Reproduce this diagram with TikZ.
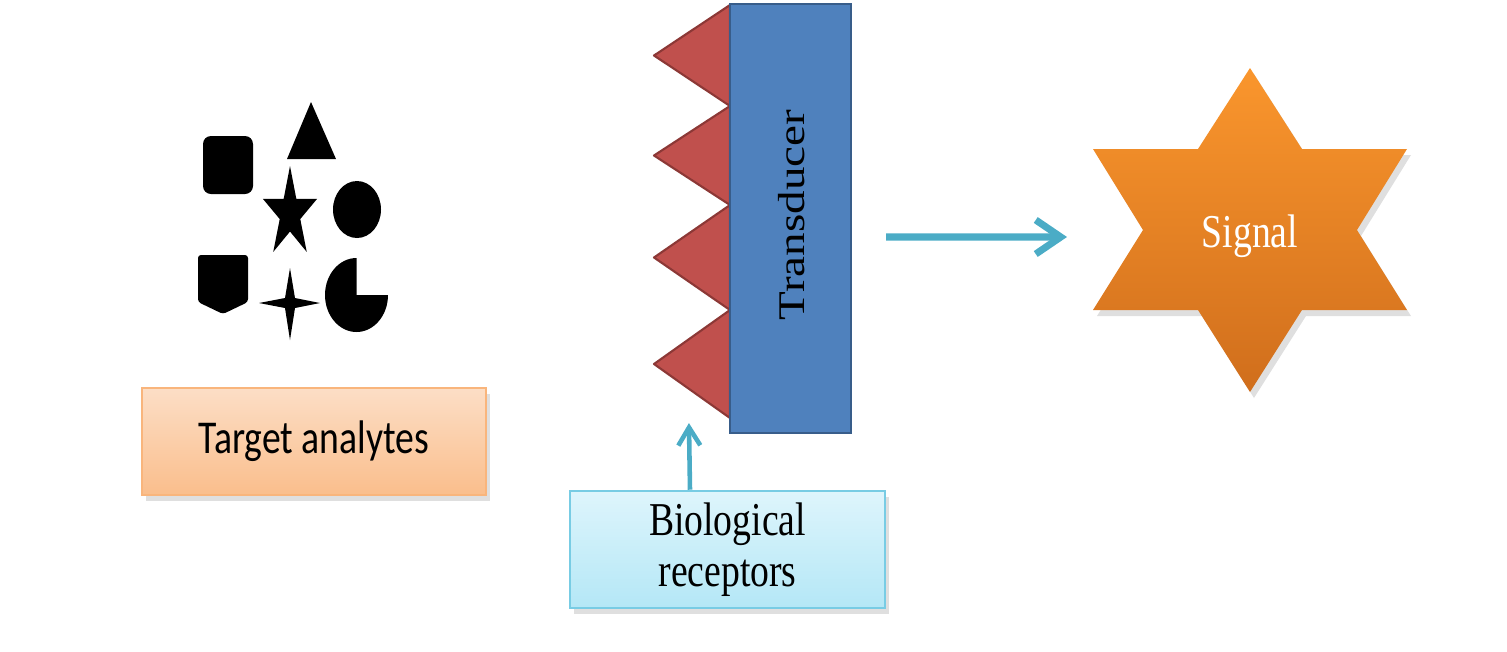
\documentclass[tikz,border=0pt]{standalone}
\usepackage{fontspec}
\setmainfont{Liberation Serif}
\newfontfamily\calibfont{Carlito}
\usetikzlibrary{arrows.meta,shadows}

\definecolor{tdrblue}{RGB}{79,129,189}
\definecolor{tdredge}{RGB}{56,93,138}
\definecolor{recred}{RGB}{192,80,77}
\definecolor{recedge}{RGB}{140,56,54}
\definecolor{arrowblue}{RGB}{75,172,198}
\definecolor{peachtop}{RGB}{252,222,198}
\definecolor{peachbot}{RGB}{250,190,140}
\definecolor{peachedge}{RGB}{249,181,124}
\definecolor{cyantop}{RGB}{222,245,252}
\definecolor{cyanbot}{RGB}{180,231,246}
\definecolor{cyanedge}{RGB}{120,204,228}
\definecolor{sigtop}{RGB}{250,150,45}
\definecolor{sigbot}{RGB}{208,110,28}

\begin{document}
\begin{tikzpicture}[x=0.1mm,y=-0.1mm,
    txt/.style={font=\fontsize{13.4}{14.6}\selectfont, xscale=0.8},
    softshadow/.style={drop shadow={opacity=0.25, shadow xshift=0.4mm, shadow yshift=-0.6mm}},
    labelbox/.style={txt, rectangle, line width=0.6pt, minimum height=10.7mm, align=center, softshadow},
    receptor/.style={fill=recred, draw=recedge, line width=0.6pt, line join=round},
    sigarrow/.style={draw=arrowblue, line width=2pt, -{Straight Barb[length=2.5mm,width=3.4mm]}}]
  \useasboundingbox (0,0) rectangle (1507,651);

  % target analytes (symbols)
  \begin{scope}[fill=black]
    \fill[rounded corners=0.8mm] (203,136) rectangle (253,194);
    \fill (311,102) -- (336,159) -- (287,159) -- cycle;
    \begin{scope}[shift={(290,213.5)}, xscale=0.6]
      \fill (-90:47.5) \foreach \k in {0,...,4}{ -- (-54+72*\k:18) -- (-18+72*\k:47.5) } -- cycle;
    \end{scope}
    \fill (357,209.5) ellipse [x radius=24, y radius=28.5];
    \fill[rounded corners=0.3mm] (198,255) -- (248,255) -- (248,302) -- (223,314) -- (198,302) -- cycle;
    \fill (290,268) -- (295,298) -- (320,303) -- (295,308) -- (290,340) -- (285,308) -- (259,303) -- (285,298) -- cycle;
    \fill (356.5,295) -- (356.5,258) arc[start angle=-90, end angle=-360, x radius=31.5, y radius=37] -- cycle;
  \end{scope}

  \node[labelbox, font=\calibfont\fontsize{13.4}{14.6}\selectfont, minimum width=43mm,
        draw=peachedge, top color=peachtop, bottom color=peachbot] (target) at (314,441.5) {\raisebox{-0.3mm}{Target analytes}};

  % transducer with receptors
  \foreach \ya/\yb in {5/106,106/205,205/310,310/418}
    \draw[receptor] (730,\ya) -- (654,{(\ya+\yb)/2}) -- (730,\yb) -- cycle;
  \node[rectangle, draw=tdredge, fill=tdrblue, line width=0.6pt,
        minimum width=12.1mm, minimum height=42.9mm] (tdr) at (790.5,218.5) {};
  \node[txt, rotate=90] (tdrtxt) at (792,215) {Transducer};

  \node[labelbox, minimum width=39.4mm, draw=cyanedge, top color=cyantop, bottom color=cyanbot]
    (bio) at (727.5,549.5) {\raisebox{-0.5mm}{Biological}\\\raisebox{-0.5mm}{receptors}};

  % signal
  \coordinate (sigc) at (1250,230);
  \path[top color=sigtop, bottom color=sigbot, softshadow]
    (1250,68) -- (1302,149) -- (1407,149) -- (1357,230) -- (1407,310) -- (1302,310)
    -- (1250,392) -- (1198,310) -- (1093,310) -- (1143,230) -- (1093,149) -- (1198,149) -- cycle;
  \node[txt, text=white] (sig) at (1250,236) {Signal};

  % arrows
  \draw[sigarrow] ([shift={(34,18.5)}]tdr.east) -- ([shift={(-183,7)}]sigc);
  \draw[sigarrow, line width=1.3pt, -{Straight Barb[length=1.8mm,width=2.2mm]}]
    ([xshift=-3.75mm]bio.north) -- ([shift={(-40,-11)}]tdr.south west);
\end{tikzpicture}
\end{document}
